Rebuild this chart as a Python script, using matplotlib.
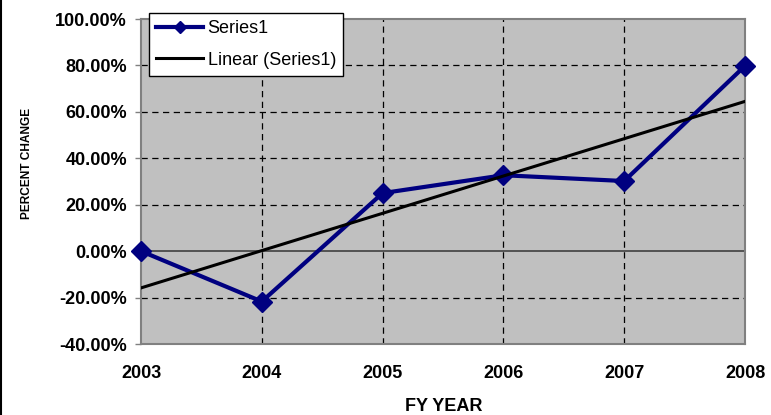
import numpy as np
import matplotlib
matplotlib.use("Agg")
import matplotlib.pyplot as plt
from matplotlib.lines import Line2D
from matplotlib.ticker import FuncFormatter

years = ["2003", "2004", "2005", "2006", "2007", "2008"]
pct_change = [0.0, -21.7, 25.0, 32.7, 30.2, 79.8]
y_ticks = [-40, -20, 0, 20, 40, 60, 80, 100]

plt.rcParams["font.family"] = ["Liberation Sans", "DejaVu Sans"]

fig = plt.figure(figsize=(7.71, 4.15), dpi=100)
ax = fig.add_axes([141 / 771, 71 / 415, 604 / 771, 325 / 415])
ax.set_facecolor("#C0C0C0")

x = np.arange(len(years))
# Least-squares trend of the series
slope, intercept = np.polyfit(x, pct_change, 1)
trend = slope * x + intercept

# Grid
for yv in y_ticks:
    if yv == 0:
        ax.axhline(yv, color="#404040", lw=1.2, zorder=1)
    elif yv != y_ticks[-1]:
        ax.axhline(yv, color="black", lw=0.9, ls=(0, (5, 3.6)), zorder=1)
for xv in x[1:-1]:
    ax.axvline(xv, color="black", lw=0.9, ls=(0, (5, 3.6)), zorder=1)

ax.plot(x, pct_change, color="#000080", lw=3, marker="D", markersize=10.5,
        clip_on=False, zorder=3)
ax.plot(x, trend, color="black", lw=2.2, zorder=4)

ax.set_xlim(0, 5)
ax.set_ylim(-40, 100)
ax.set_xticks(x)
ax.set_xticklabels(years)
ax.set_yticks(y_ticks)
ax.yaxis.set_major_formatter(FuncFormatter(lambda v, p: f"{v:.2f}%"))

for lab in ax.get_xticklabels() + ax.get_yticklabels():
    lab.set_fontweight("bold")
    lab.set_fontsize(13)
ax.tick_params(axis="x", length=0, pad=15)
ax.tick_params(axis="y", length=4, width=1, color="#808080", pad=6)

for s in ax.spines.values():
    s.set_color("#808080")
    s.set_linewidth(1.5)

fig.text(444 / 771, 1 - 406.5 / 415, "FY YEAR", ha="center", va="center",
         fontsize=13, fontweight="bold")
fig.text(27 / 771, 1 - 163.5 / 415, "PERCENT CHANGE", rotation=90,
         ha="center", va="center", fontsize=8.6, fontweight="bold")

handles = [
    Line2D([], [], color="#000080", lw=3, marker="D", markersize=6),
    Line2D([], [], color="black", lw=2.2),
]
leg = fig.legend(handles, ["Series1", "Linear (Series1)"],
                 loc="upper left", bbox_to_anchor=(149 / 771, 1 - 13 / 415),
                 fontsize=13, frameon=True, fancybox=False, framealpha=1,
                 edgecolor="black", handlelength=2.6, handletextpad=0.25,
                 labelspacing=0.8, borderpad=0.4, borderaxespad=0)
leg.get_frame().set_linewidth(1)

# Chart area left border
fig.add_artist(Line2D([1 / 771, 1 / 771], [0, 1], color="black", lw=1.5,
                      transform=fig.transFigure))

fig.savefig("out.png", dpi=100)
